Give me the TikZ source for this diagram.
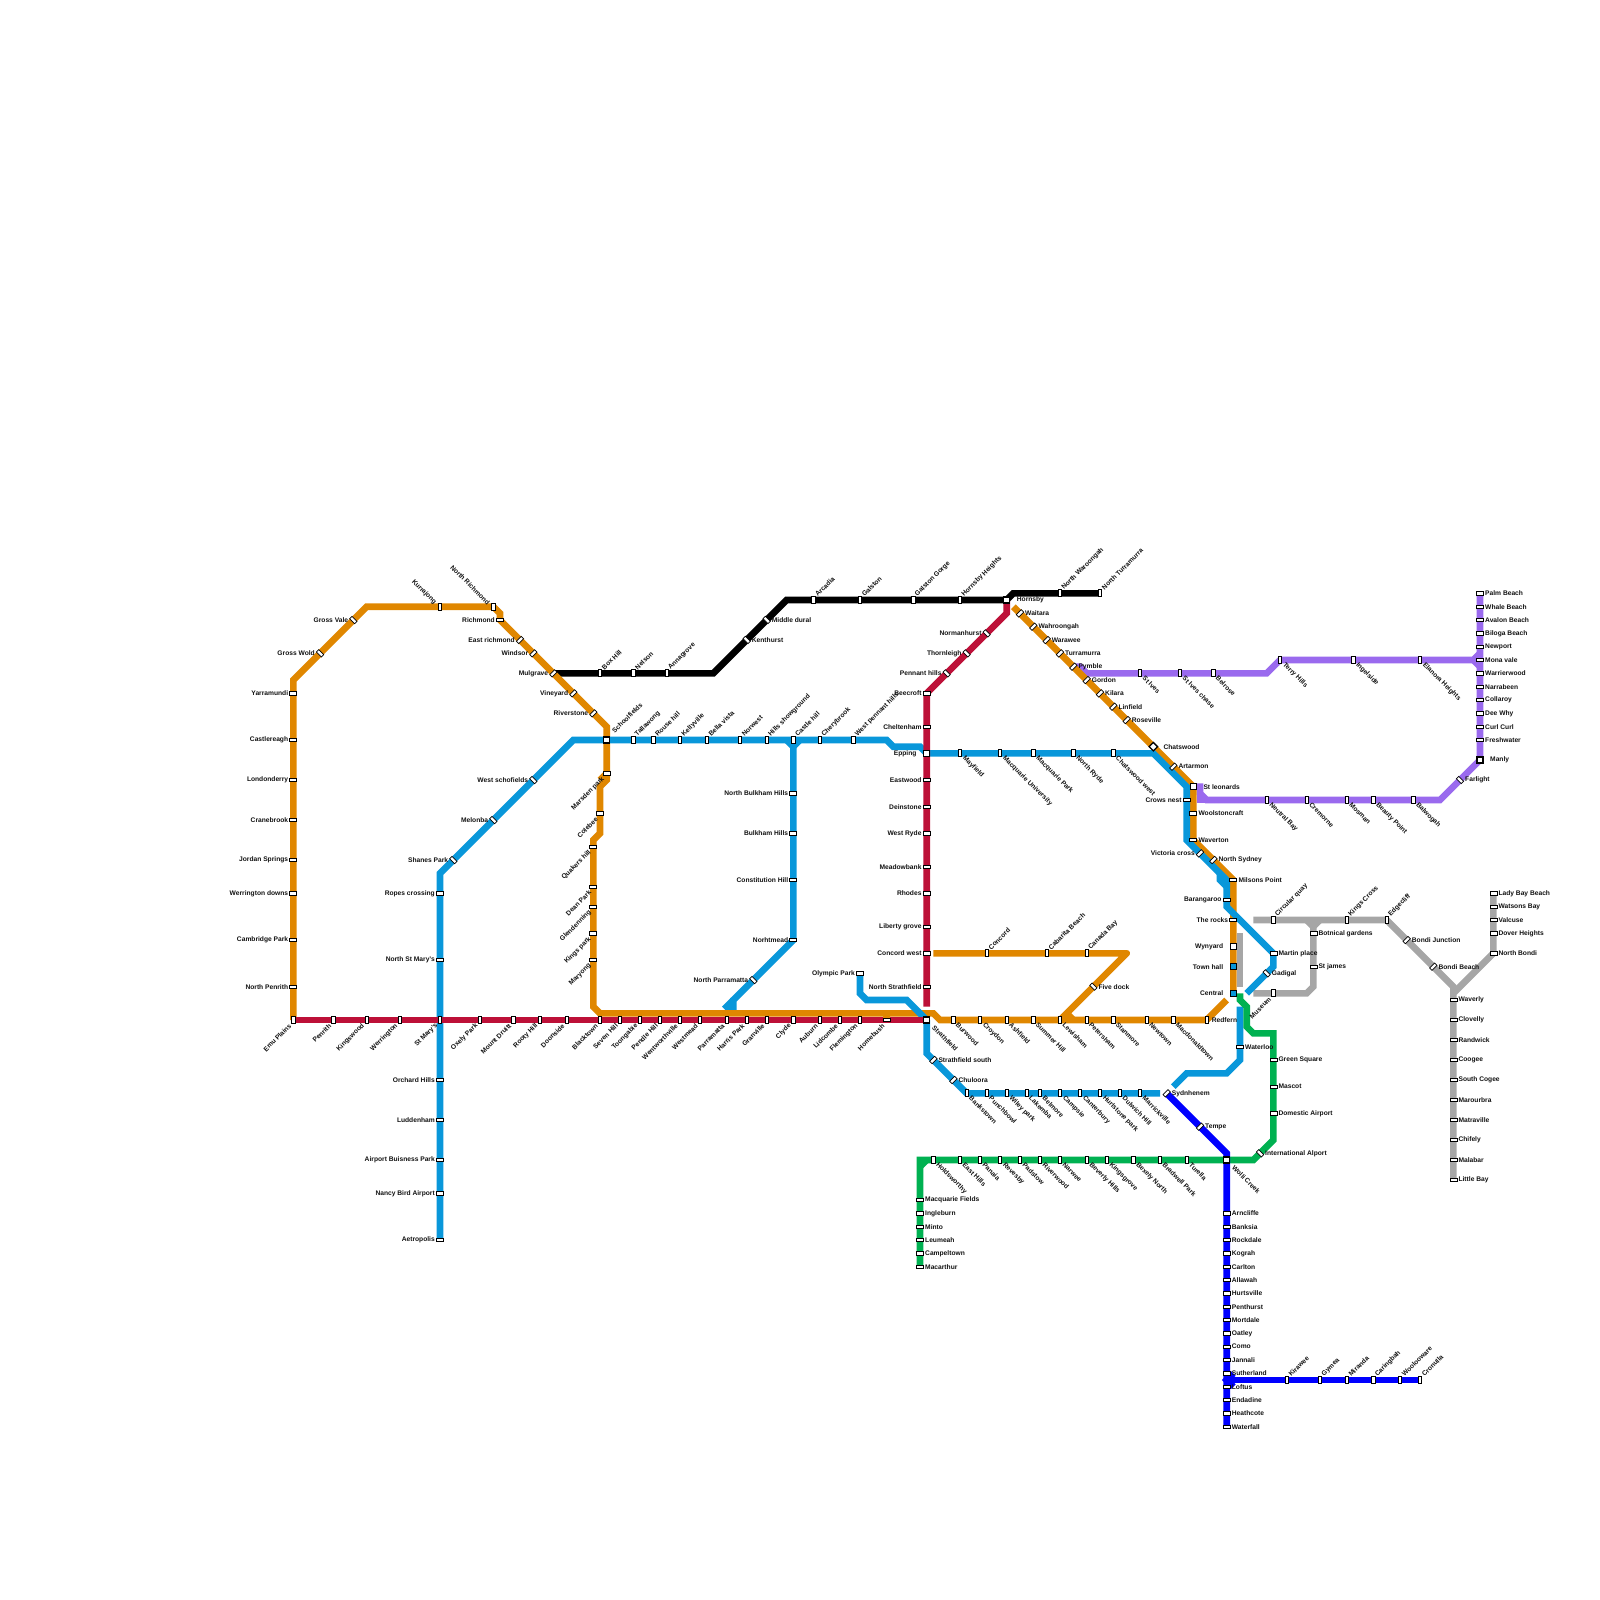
\documentclass[tikz,border=0pt]{standalone}
\usepackage{fontspec}
\setmainfont{Liberation Sans}
\usetikzlibrary{backgrounds}
\definecolor{my_orange}{HTML}{E08700}
\definecolor{my_red}{HTML}{BD1038}
\definecolor{my_blue}{HTML}{0997DA}
\definecolor{my_green}{HTML}{00B151}
\definecolor{my_purple}{HTML}{9A6AEE}
\definecolor{my_gray}{HTML}{A6A6A6}
\definecolor{my_navy}{HTML}{0000FF}
\definecolor{my_ink}{HTML}{111111}

\begin{document}
\begin{tikzpicture}[
    x=6.6667pt,
    y=-6.6667pt,
    line cap=round,
    line join=miter,
    every node/.style={font=\fontsize{6.67}{8}\selectfont\bfseries, text=my_ink, inner sep=0pt},
    route/.style={line width=6.67pt},
    % station marks
    stoph/.style={rectangle, draw=black, fill=white, line width=0.7pt, minimum width=3.4pt, minimum height=7pt},
    stopv/.style={rectangle, draw=black, fill=white, line width=0.7pt, minimum width=7pt, minimum height=3.4pt},
    stopne/.style={stoph, rotate=45},
    stopse/.style={stoph, rotate=-45},
    stopx/.style={rectangle, draw=black, fill=white, line width=1.3pt, minimum width=6pt, minimum height=6pt},
    stopxd/.style={stopx, rotate=45},
    stopxb/.style={stopx, fill=my_blue},
    % station labels
    labl/.style={anchor=east, xshift=-5pt},
    labr/.style={anchor=west, xshift=5pt},
    labL/.style={anchor=east, xshift=-10pt},
    labR/.style={anchor=west, xshift=10pt},
    labtr/.style={xshift=2.8pt, yshift=4.6pt, anchor=west, rotate=45},
    labbr/.style={xshift=3.6pt, yshift=-3.8pt, anchor=west, rotate=-45},
    labbl/.style={xshift=-3.2pt, yshift=-4.8pt, anchor=east, rotate=45},
    labtl/.style={xshift=-4.6pt, yshift=3.2pt, anchor=east, rotate=-45},
    labTR/.style={xshift=6.4pt, yshift=8pt, anchor=west, rotate=45},
    labBR/.style={xshift=6.6pt, yshift=-6.6pt, anchor=west, rotate=-45}
]

\useasboundingbox (0,0) rectangle (240,240);

% Western line along the bottom
\foreach \id/\x/\y/\stop/\lab/\txt in {
    emu/44/153/stoph/labbl/Emu Plains,
    penrith/50/153/stoph/labbl/Penrith,
    kingswood/55/153/stoph/labbl/Kingswood,
    werrington/60/153/stoph/labbl/Werrington,
    stmarys/66/153/stoph/labbl/St Mary's,
    oxely/72/153/stoph/labbl/Oxely Park,
    druitt/77/153/stoph/labbl/Mount Druitt,
    rooty/81/153/stoph/labbl/Rooty Hill,
    doonside/85/153/stoph/labbl/Doonside,
    blacktown/90/153/stoph/labbl/Blacktown,
    sevenhill/93/153/stoph/labbl/Seven Hill,
    toongabie/96/153/stoph/labbl/Toongabie,
    pendle/99/153/stoph/labbl/Pendle Hill,
    wentworth/102/153/stoph/labbl/Wentworthville,
    westmead/105/153/stoph/labbl/Westmead,
    parramatta/109/153/stoph/labbl/Parramatta,
    harris/112/153/stoph/labbl/Harris Park,
    granville/115/153/stoph/labbl/Granville,
    clyde/119/153/stoph/labbl/Clyde,
    auburn/123/153/stoph/labbl/Auburn,
    lidcombe/126/153/stoph/labbl/Lidcombe,
    flemington/129/153/stoph/labbl/Flemington,
    homebush/133/153/stopv/labbl/Homebush,
    strathfield/139/153/stopx/labBR/Strathfield,
    % north along the red line
    nstrathfield/139/148/stopv/labl/North Strathfield,
    concordw/139/143/stopv/labl/Concord west,
    liberty/139/139/stopv/labl/Liberty grove,
    rhodes/139/134/stopv/labl/Rhodes,
    meadowbank/139/130/stopv/labl/Meadowbank,
    westryde/139/125/stopv/labl/West Ryde,
    deinstone/139/121/stopv/labl/Deinstone,
    eastwood/139/117/stopv/labl/Eastwood,
    epping/139/113/stopx/labL/Epping,
    cheltenham/139/109/stopv/labl/Cheltenham,
    beecroft/139/104/stopv/labl/Beecroft,
    pennant/142/101/stopne/labl/Pennant hills,
    thornleigh/145/98/stopne/labl/Thornleigh,
    normanhurst/148/95/stopne/labl/Normanhurst,
    hornsby/151/90/stopx/labR/Hornsby}
    {
    \node[\stop] (\id) at (\x,\y) {};
    \node[\lab] (\id-t) at (\x,\y) {\txt};
}

% Orange line, west loop and Blacktown branch
\foreach \id/\x/\y/\stop/\lab/\txt in {
    nthpenrith/44/148/stopv/labl/North Penrith,
    cambridge/44/141/stopv/labl/Cambridge Park,
    werringtond/44/134/stopv/labl/Werrington downs,
    jordan/44/129/stopv/labl/Jordan Springs,
    cranebrook/44/123/stopv/labl/Cranebrook,
    londonderry/44/117/stopv/labl/Londonderry,
    castlereagh/44/111/stopv/labl/Castlereagh,
    yarramundi/44/104/stopv/labl/Yarramundi,
    grosswold/48/98/stopne/labl/Gross Wold,
    grossvale/53/93/stopne/labl/Gross Vale,
    kurrajong/66/91/stoph/labtl/Kurrajong,
    nrichmond/74/91/stoph/labtl/North Richmond,
    richmond/75/93/stopv/labl/Richmond,
    erichmond/78/96/stopse/labl/East richmond,
    windsor/80/98/stopse/labl/Windsor,
    mulgrave/83/101/stopse/labl/Mulgrave,
    vineyard/86/104/stopse/labl/Vineyard,
    riverstone/89/107/stopse/labl/Riverstone,
    schoolfields/91/111/stopx/labTR/Schoolfields,
    marsden/91/116/stopv/labbl/Marsden park,
    colebee/90/122/stopv/labbl/Colebee,
    quakers/89/127/stopv/labbl/Quakers hill,
    dean/89/133/stopv/labbl/Dean Park,
    glendenning/89/136/stopv/labbl/Glendenning,
    kingspark/89/140/stopv/labbl/Kings park,
    maryong/89/144/stopv/labbl/Maryong}
    {
    \node[\stop] (\id) at (\x,\y) {};
    \node[\lab] (\id-t) at (\x,\y) {\txt};
}

% Orange line, east of Strathfield
\foreach \id/\x/\y/\stop/\lab/\txt in {
    burwood/143/153/stoph/labbr/Burwood,
    croydon/147/153/stoph/labbr/Croydon,
    ashfield/151/153/stoph/labbr/Ashfield,
    summer/155/153/stoph/labbr/Summer Hill,
    lewisham/159/153/stoph/labbr/Lewisham,
    petersham/163/153/stoph/labbr/Petersham,
    stanmore/167/153/stoph/labbr/Stanmore,
    newtown/172/153/stoph/labbr/Newtown,
    macdonald/176/153/stoph/labbr/Macdonaldtown,
    redfern/181/153/stoph/labr/Redfern,
    concord/148/143/stoph/labtr/Concord,
    cabarita/157/143/stoph/labtr/Cabarita Beach,
    canada/163/143/stoph/labtr/Canada Bay,
    fivedock/164/148/stopne/labr/Five dock,
    waitara/153/92/stopse/labr/Waitara,
    wahroongah/155/94/stopse/labr/Wahroongah,
    warawee/157/96/stopse/labr/Warawee,
    turramurra/159/98/stopse/labr/Turramurra,
    pymble/161/100/stopse/labr/Pymble,
    gordon/163/102/stopse/labr/Gordon,
    kilara/165/104/stopse/labr/Kilara,
    linfield/167/106/stopse/labr/Linfield,
    roseville/169/108/stopse/labr/Roseville,
    chatswood/173/112/stopxd/labR/Chatswood,
    artarmon/176/115/stopse/labr/Artarmon,
    stleonards/179/118/stopx/labR/St leonards,
    woolstoncraft/179/122/stopv/labr/Woolstoncraft,
    waverton/179/126/stopv/labr/Waverton,
    nsydney/182/129/stopse/labr/North Sydney,
    milsons/185/132/stopv/labr/Milsons Point,
    therocks/185/138/stopv/labl/The rocks,
    wynyard/185/142/stopx/labL/Wynyard,
    townhall/185/145/stopxb/labL/Town hall,
    central/185/149/stopxb/labL/Central}
    {
    \node[\stop] (\id) at (\x,\y) {};
    \node[\lab] (\id-t) at (\x,\y) {\txt};
}

% Blue line
\foreach \id/\x/\y/\stop/\lab/\txt in {
    aetropolis/66/186/stopv/labl/Aetropolis,
    nancy/66/179/stopv/labl/Nancy Bird Airport,
    business/66/174/stopv/labl/Airport Buisness Park,
    luddenham/66/168/stopv/labl/Luddenham,
    orchard/66/162/stopv/labl/Orchard Hills,
    nstmarys/66/144/stopv/labl/North St Mary's,
    ropes/66/134/stopv/labl/Ropes crossing,
    shanes/68/129/stopne/labl/Shanes Park,
    melonba/74/123/stopne/labl/Melonba,
    wschofields/80/117/stopne/labl/West schofields,
    tallawong/95/111/stoph/labtr/Tallawong,
    rouse/98/111/stoph/labtr/Rouse hill,
    kellyville/102/111/stoph/labtr/Kellyville,
    bellavista/106/111/stoph/labtr/Bella vista,
    norwest/111/111/stoph/labtr/Norwest,
    showground/115/111/stoph/labtr/Hills showground,
    castlehill/119/111/stoph/labtr/Castle hill,
    cherybrook/123/111/stoph/labtr/Cherybrook,
    wpennant/128/111/stoph/labtr/West pennant hills,
    nbulkham/119/119/stopv/labl/North Bulkham Hills,
    bulkham/119/125/stopv/labl/Bulkham Hills,
    constitution/119/132/stopv/labl/Constitution Hill,
    northmead/119/141/stopv/labl/Norhtmead,
    nparramatta/113/147/stopne/labl/North Parramatta,
    olympic/129/146/stopv/labl/Olympic Park,
    mayfield/144/113/stoph/labbr/Mayfield,
    macuni/150/113/stoph/labbr/Macquarie University,
    macpark/155/113/stoph/labbr/Macquarie Park,
    nryde/161/113/stoph/labbr/North Ryde,
    chatswoodw/167/113/stoph/labbr/Chatswood west,
    crowsnest/178/120/stopv/labl/Crows nest,
    victoria/180/128/stopse/labl/Victoria cross,
    barangaroo/184/135/stopv/labl/Barangaroo,
    martin/191/143/stopv/labr/Martin place,
    gadigal/190/146/stopne/labr/Gadigal,
    waterloo/186/157/stopv/labr/Waterloo,
    sstrathfield/140/159/stopse/labr/Strathfield south,
    chuloora/143/162/stopse/labr/Chuloora,
    bankstown/145/164/stoph/labbr/Bankstown,
    punchbowl/148/164/stoph/labbr/Punchbowl,
    wiley/151/164/stoph/labbr/Wiley park,
    lakemba/154/164/stoph/labbr/Lakemba,
    belmore/156/164/stoph/labbr/Belmore,
    campsie/159/164/stoph/labbr/Campsie,
    canterbury/162/164/stoph/labbr/Canterbury,
    hurlstone/165/164/stoph/labbr/Hurlstone park,
    dulwich/168/164/stoph/labbr/Dulwich Hill,
    marrickville/171/164/stoph/labbr/Marrickville}
    {
    \node[\stop] (\id) at (\x,\y) {};
    \node[\lab] (\id-t) at (\x,\y) {\txt};
}

% Black line
\foreach \id/\x/\y/\stop/\lab/\txt in {
    boxhill/90/101/stoph/labtr/Box Hill,
    nelson/95/101/stoph/labtr/Nelson,
    annagrove/100/101/stoph/labtr/Annagrove,
    kenthurst/112/96/stopne/labr/Kenthurst,
    dural/115/93/stopne/labr/Middle dural,
    arcadia/122/90/stoph/labtr/Arcadia,
    galston/129/90/stoph/labtr/Galston,
    gorge/137/90/stoph/labtr/Galston Gorge,
    hheights/144/90/stoph/labtr/Hornsby Heights,
    nwaroongah/159/89/stoph/labtr/North Waroongah,
    nturramurra/165/89/stoph/labtr/North Turramurra}
    {
    \node[\stop] (\id) at (\x,\y) {};
    \node[\lab] (\id-t) at (\x,\y) {\txt};
}

% Purple line
\foreach \id/\x/\y/\stop/\lab/\txt in {
    stives/171/101/stoph/labbr/St Ives,
    stiveschase/177/101/stoph/labbr/St Ives chase,
    belrose/182/101/stoph/labbr/Belrose,
    terry/192/99/stoph/labbr/Terry Hills,
    ingelside/203/99/stoph/labbr/Ingelside,
    elanora/213/99/stoph/labbr/Elanora Heights,
    palm/222/89/stopv/labr/Palm Beach,
    whale/222/91/stopv/labr/Whale Beach,
    avalon/222/93/stopv/labr/Avalon Beach,
    biloga/222/95/stopv/labr/Biloga Beach,
    newport/222/97/stopv/labr/Newport,
    monavale/222/99/stopv/labr/Mona vale,
    warriewood/222/101/stopv/labr/Warrierwood,
    narrabeen/222/103/stopv/labr/Narrabeen,
    collaroy/222/105/stopv/labr/Collaroy,
    deewhy/222/107/stopv/labr/Dee Why,
    curlcurl/222/109/stopv/labr/Curl Curl,
    freshwater/222/111/stopv/labr/Freshwater,
    manly/222/114/stopx/labR/Manly,
    farlight/219/117/stopne/labr/Farlight,
    balwogah/212/120/stoph/labbr/Balwogah,
    beauty/206/120/stoph/labbr/Beauty Point,
    mosman/202/120/stoph/labbr/Mosman,
    cremorne/196/120/stoph/labbr/Cremorne,
    neutral/190/120/stoph/labbr/Neutral Bay}
    {
    \node[\stop] (\id) at (\x,\y) {};
    \node[\lab] (\id-t) at (\x,\y) {\txt};
}

% Gray line
\foreach \id/\x/\y/\stop/\lab/\txt in {
    circular/191/138/stoph/labtr/Circular quay,
    museum/191/149/stoph/labbl/Museum,
    botanical/197/140/stopv/labr/Botnical gardens,
    stjames/197/145/stopv/labr/St james,
    kingscross/202/138/stoph/labtr/Kings Cross,
    edgecliff/208/138/stoph/labtr/Edgecliff,
    bondij/211/141/stopse/labr/Bondi Junction,
    bondib/215/145/stopse/labr/Bondi Beach,
    ladybay/224/134/stopv/labr/Lady Bay Beach,
    watsons/224/136/stopv/labr/Watsons Bay,
    valcuse/224/138/stopv/labr/Valcuse,
    dover/224/140/stopv/labr/Dover Heights,
    nbondi/224/143/stopv/labr/North Bondi,
    waverly/218/150/stopv/labr/Waverly,
    clovelly/218/153/stopv/labr/Clovelly,
    randwick/218/156/stopv/labr/Randwick,
    coogee/218/159/stopv/labr/Coogee,
    scogee/218/162/stopv/labr/South Cogee,
    marourbra/218/165/stopv/labr/Marourbra,
    matraville/218/168/stopv/labr/Matraville,
    chifely/218/171/stopv/labr/Chifely,
    malabar/218/174/stopv/labr/Malabar,
    littlebay/218/177/stopv/labr/Little Bay}
    {
    \node[\stop] (\id) at (\x,\y) {};
    \node[\lab] (\id-t) at (\x,\y) {\txt};
}

% Green line
\foreach \id/\x/\y/\stop/\lab/\txt in {
    macarthur/138/190/stopv/labr/Macarthur,
    campeltown/138/188/stopv/labr/Campeltown,
    leumeah/138/186/stopv/labr/Leumeah,
    minto/138/184/stopv/labr/Minto,
    ingleburn/138/182/stopv/labr/Ingleburn,
    macfields/138/180/stopv/labr/Macquarie Fields,
    holdsworthy/140/174/stoph/labbr/Holdsworthy,
    easthills/144/174/stoph/labbr/East Hills,
    panaia/147/174/stoph/labbr/Panaia,
    revesby/150/174/stoph/labbr/Revesby,
    padstow/153/174/stoph/labbr/Padstow,
    riverwood/156/174/stoph/labbr/Riverwood,
    narwee/159/174/stoph/labbr/Narwee,
    beverly/163/174/stoph/labbr/Beverly Hills,
    kingsgrove/166/174/stoph/labbr/Kingsgrove,
    bexely/170/174/stoph/labbr/Bexely North,
    bradwell/174/174/stoph/labbr/Bradwell Park,
    turella/178/174/stoph/labbr/Turella,
    wolli/184/174/stopx/labBR/Wolli Creek,
    intl/189/173/stopne/labr/International Alport,
    domestic/191/167/stopv/labr/Domestic Airport,
    mascot/191/163/stopv/labr/Mascot,
    greensq/191/159/stopv/labr/Green Square}
    {
    \node[\stop] (\id) at (\x,\y) {};
    \node[\lab] (\id-t) at (\x,\y) {\txt};
}

% Dark blue line
\foreach \id/\x/\y/\stop/\lab/\txt in {
    sydnhenem/175/164/stopse/labr/Sydnhenem,
    tempe/180/169/stopse/labr/Tempe,
    arncliffe/184/182/stopv/labr/Arncliffe,
    banksia/184/184/stopv/labr/Banksia,
    rockdale/184/186/stopv/labr/Rockdale,
    kograh/184/188/stopv/labr/Kograh,
    carlton/184/190/stopv/labr/Carlton,
    allawah/184/192/stopv/labr/Allawah,
    hurtsville/184/194/stopv/labr/Hurtsville,
    penthurst/184/196/stopv/labr/Penthurst,
    mortdale/184/198/stopv/labr/Mortdale,
    oatley/184/200/stopv/labr/Oatley,
    como/184/202/stopv/labr/Como,
    jannali/184/204/stopv/labr/Jannali,
    sutherland/184/206/stopv/labr/Sutherland,
    loftus/184/208/stopv/labr/Loftus,
    endadine/184/210/stopv/labr/Endadine,
    heathcote/184/212/stopv/labr/Heathcote,
    waterfall/184/214/stopv/labr/Waterfall,
    kirawee/193/207/stoph/labtr/Kirawee,
    gymea/198/207/stoph/labtr/Gymea,
    miranda/202/207/stoph/labtr/Miranda,
    caringbah/206/207/stoph/labtr/Caringbah,
    woolooware/210/207/stoph/labtr/Woolooware,
    cronulla/213/207/stoph/labtr/Cronulla}
    {
    \node[\stop] (\id) at (\x,\y) {};
    \node[\lab] (\id-t) at (\x,\y) {\txt};
}

% Bends and free ends of the routes
\foreach \id/\x/\y in {
    or-a/44/102, or-b/55/91, or-c/75/92, or-d/91/109, or-e/91/117, or-f/90/118, or-g/90/125,
    or-h/89/126, or-i/89/151, or-j/90/152, or-k/140/152, or-l/141/153, or-m/184/150,
    or-n/90/117, or-o/133/152, or-p/160/152, or-q/161/153, or-r/140/143, or-s/169/143, or-t/152/91,
    bl-a/66/131, bl-b/86/111, bl-c/133/111, bl-d/134/112, bl-e/138/112, bl-f/173/113, bl-g/178/118,
    bl-h/178/126, bl-i/183/131, bl-j/184/132, bl-k/184/136, bl-l/191/145, bl-m/187/149,
    bl-n/183/132, bl-o/184/133, bl-p/186/151, bl-q/186/159, bl-r/184/161, bl-s/178/161, bl-t/176/163,
    bl-u/139/158, bl-v/174/164, bl-w/129/149, bl-x/130/150, bl-y/136/150,
    bl-z/118/111, cb-a/119/112, cb-b/120/111, cb-c/110/150, cb-d/110/152, cb-e/109/151,
    rd-a/139/151, rd-b/151/92,
    bk-a/107/101, bk-b/118/90, bk-c/152/89,
    pu-a/162/100, pu-b/163/101, pu-c/190/101, pu-d/221/99, pu-e/222/98, pu-f/222/100,
    pu-g/216/120, pu-h/181/120, pu-i/180/119, pu-j/180/118, pu-k/180/120,
    gy-a/218/148, gy-b/218/149, gy-c/188/138, gy-d/196/138, gy-e/197/139, gy-f/198/138,
    gy-g/197/148, gy-h/196/149, gy-i/188/149, gy-j/186/140, gy-k/186/148,
    gn-a/138/174, gn-b/138/175, gn-c/139/174, gn-d/188/174, gn-e/191/171, gn-f/191/155,
    gn-g/188/155, gn-h/187/154, gn-i/187/151, gn-j/186/150, gn-k/186/149,
    nv-a/184/173, nv-b/184/207, nv-c/185/206, nv-d/185/208}
    \coordinate (\id) at (\x,\y);

% Routes sit under the stations
\begin{scope}[on background layer]

% Black line
\draw[route, draw=black]
    (mulgrave.center) -- (bk-a) -- (bk-b) -- (hornsby.center) -- (bk-c) -- (nturramurra.center);

% Gray line
\draw[route, draw=my_gray]
    (ladybay.center) -- (nbondi.center) -- (gy-b) -- (littlebay.center);
\draw[route, draw=my_gray]
    (gy-c) -- (edgecliff.center) -- (gy-a) -- (gy-b);
\draw[route, draw=my_gray]
    (gy-d) -- (gy-e) -- (gy-f);
\draw[route, draw=my_gray]
    (gy-e) -- (gy-g) -- (gy-h) -- (gy-i);
\draw[route, draw=my_gray]
    (gy-j) -- (gy-k);

% Purple line
\draw[route, draw=my_purple]
    (pymble.center) -- (pu-a) -- (pu-b) -- (pu-c) -- (terry.center) -- (pu-d) -- (pu-e);
\draw[route, draw=my_purple]
    (pu-d) -- (pu-f);
\draw[route, draw=my_purple]
    (palm.center) -- (manly.center) -- (pu-g) -- (pu-h) -- (pu-i) -- (pu-j) -- (stleonards.center);
\draw[route, draw=my_purple]
    (pu-i) -- (pu-k) -- (pu-h);

% Blue branch to Parramatta, under the orange line
\draw[route, draw=my_blue]
    (cb-a) -- (northmead.center) -- (cb-c) -- (cb-d);
\draw[route, draw=my_blue]
    (cb-c) -- (cb-e) -- (cb-d);
\draw[route, draw=my_blue]
    (bl-z) -- (cb-a) -- (cb-b);

% Orange line
\draw[route, draw=my_orange]
    (emu.center) -- (or-a) -- (or-b) -- (nrichmond.center) -- (or-c) -- (richmond.center)
    -- (or-d) -- (or-e) -- (or-f) -- (or-g) -- (or-h) -- (or-i) -- (or-j) -- (or-k)
    -- (or-l) -- (redfern.center) -- (or-m);
\draw[route, draw=my_orange]
    (marsden.center) -- (or-n);
\draw[route, draw=my_orange, line join=round]
    (or-r) -- (or-s) -- (lewisham.center);
\draw[route, draw=my_orange]
    (or-p) -- (or-q);
\draw[route, draw=my_orange]
    (or-t) -- (stleonards.center) -- (waverton.center) -- (milsons.center) -- (central.center);

% Blue line
\draw[route, draw=my_blue]
    (aetropolis.center) -- (bl-a) -- (bl-b) -- (bl-c) -- (bl-d) -- (bl-e) -- (epping.center)
    -- (bl-f) -- (bl-g) -- (bl-h) -- (bl-i) -- (bl-j) -- (bl-k) -- (martin.center)
    -- (bl-l) -- (bl-m);
\draw[route, draw=my_blue]
    (bl-i) -- (bl-n) -- (bl-o);
\draw[route, draw=my_blue]
    (bl-p) -- (bl-q) -- (bl-r) -- (bl-s) -- (bl-t);
\draw[route, draw=my_blue]
    (strathfield.center) -- (bl-u) -- (bankstown.center) -- (bl-v);
\draw[route, draw=my_blue]
    (olympic.center) -- (bl-w) -- (bl-x) -- (bl-y) -- (strathfield.center);

% Red line
\draw[route, draw=my_red]
    (rd-a) -- (beecroft.center) -- (rd-b) -- (hornsby.center);
\draw[route, draw=my_red]
    (emu.center) -- (strathfield.center);

% Orange stub at Homebush
\draw[route, draw=my_orange]
    (or-o) -- (homebush.center);

% Green line
\draw[route, draw=my_green]
    (macarthur.center) -- (gn-a) -- (gn-d) -- (gn-e) -- (gn-f) -- (gn-g) -- (gn-h) -- (gn-i)
    -- (gn-j) -- (gn-k);
\draw[route, draw=my_green]
    (gn-b) -- (gn-c);

% Dark blue line
\draw[route, draw=my_navy]
    (sydnhenem.center) -- (nv-a) -- (waterfall.center);
\draw[route, draw=my_navy]
    (nv-c) -- (nv-b) -- (nv-d);
\draw[route, draw=my_navy]
    (nv-b) -- (cronulla.center);

\end{scope}
\end{tikzpicture}
\end{document}
